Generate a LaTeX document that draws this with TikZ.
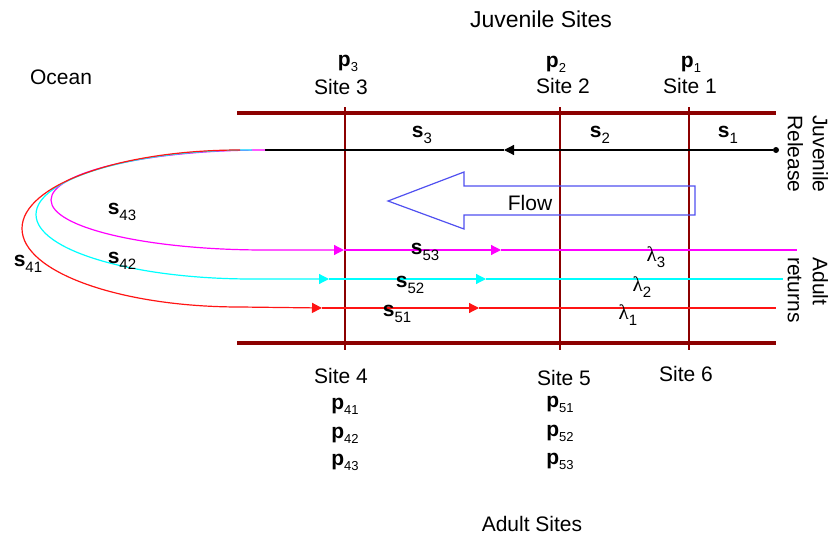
\documentclass[tikz,border=0pt]{standalone}
\usepackage{fontspec}
\setmainfont{Liberation Sans}
\newfontfamily\greekfont{Liberation Serif}
\usepackage{tikz}
\usetikzlibrary{arrows.meta}
\usetikzlibrary{positioning}
\tikzset{>={Triangle[length=10pt,width=10pt]}}
\definecolor{sitered}{RGB}{140,0,0}
\definecolor{flowblue}{RGB}{80,80,240}
\definecolor{retm}{RGB}{255,0,255}
\definecolor{retc}{RGB}{0,255,255}
\definecolor{retr}{RGB}{255,20,20}
\newcommand{\sv}[2]{\textbf{#1}\raisebox{-6pt}{\fontsize{15}{15}\selectfont #2}}
\newcommand{\pv}[2]{\textbf{#1}\raisebox{-5pt}{\fontsize{13}{13}\selectfont #2}}
\newcommand{\lam}[1]{{\greekfont λ}\raisebox{-6pt}{\fontsize{15}{15}\selectfont #1}}

\begin{document}
\begin{tikzpicture}[x=1pt,y=-1pt,font=\fontsize{21}{25}\selectfont,
		bank/.style={sitered, line width=4pt},
		siteline/.style={sitered, line width=1.2pt},
		ret/.style={line width=1.2pt}]
		\useasboundingbox (0,0) rectangle (831,538);
		% river banks and sites
		\draw[bank] (237,113) -- (776,113);
		\draw[bank] (237,343) -- (776,343);
		\foreach \x in {345,560,689}
			\draw[siteline] (\x,107) -- (\x,350);
		% juvenile path
		\node[circle, fill, inner sep=0pt, minimum size=6pt] (release) at (776,150) {};
		\coordinate (juvtip) at (504,150);
		\coordinate (looptop) at (265,150);
		\draw[->, line width=1.2pt] (release) -- (juvtip);
		\draw[line width=1.2pt] (juvtip) -- (looptop);
		% adult returns
		\foreach \c/\cx/\rx/\ry/\ya/\ta/\tb/\xe in {retm/265/214/50/250/344/501/797, retc/252/216/64.5/279/329/486/783, retr/240/218/78.5/308/322/479/776}{
			\draw[ret, \c, ->] (\cx,150) arc[start angle=90, end angle=270, x radius=\rx pt, y radius=\ry pt] -- (\ta,\ya) coordinate (\c a);
			\draw[ret, \c, ->] (\c a) -- (\tb,\ya) coordinate (\c b);
			\draw[ret, \c] (\c b) -- (\xe,\ya);
		}
		% flow
		\draw[flowblue, line width=1.2pt] (388,201) -- (464,172) -- (464,186) -- (695,186) -- (695,215) -- (464,215) -- (464,229) -- cycle;
		\node (flow) at (530,203) {Flow};
		% labels
		\node[font=\fontsize{23}{27}\selectfont] (juvsites) at (541,19) {Juvenile Sites};
		\node (adultsites) at (532,524) {Adult Sites};
		\node (ocean) at (61,77) {Ocean};
		\node (site3) at (341,87) {Site 3};
		\node (site2) at (563,86) {Site 2};
		\node (site1) at (690,86) {Site 1};
		\node (p3) at (348,63) {\pv{p}{3}};
		\node (p2) at (556,64) {\pv{p}{2}};
		\node (p1) at (691,64) {\pv{p}{1}};
		\node (s3) at (422,135) {\sv{s}{3}};
		\node (s2) at (600,135) {\sv{s}{2}};
		\node (s1) at (728,135) {\sv{s}{1}};
		\node (s43) at (122,212) {\sv{s}{43}};
		\node (s42) at (122,261) {\sv{s}{42}};
		\node (s41) at (28,264) {\sv{s}{41}};
		\node (s53) at (425,252) {\sv{s}{53}};
		\node (s52) at (410,285) {\sv{s}{52}};
		\node (s51) at (397,314) {\sv{s}{51}};
		\node (l3) at (656,257) {\lam{3}};
		\node (l2) at (642,287) {\lam{2}};
		\node (l1) at (628,315) {\lam{1}};
		\node (site4) at (341,376) {Site 4};
		\node (site5) at (564,378) {Site 5};
		\node (site6) at (686,374) {Site 6};
		\node (p41) at (345,406) {\pv{p}{41}};
		\node (p42) at (345,435) {\pv{p}{42}};
		\node (p43) at (345,462) {\pv{p}{43}};
		\node (p51) at (560,404) {\pv{p}{51}};
		\node (p52) at (560,433) {\pv{p}{52}};
		\node (p53) at (560,461) {\pv{p}{53}};
		\node[rotate=-90, align=left] (juvrel) at (808,154) {Juvenile\\Release};
		\node[rotate=-90, align=left] (adultret) at (808,290) {Adult\\returns};
	\end{tikzpicture}
\end{document}
